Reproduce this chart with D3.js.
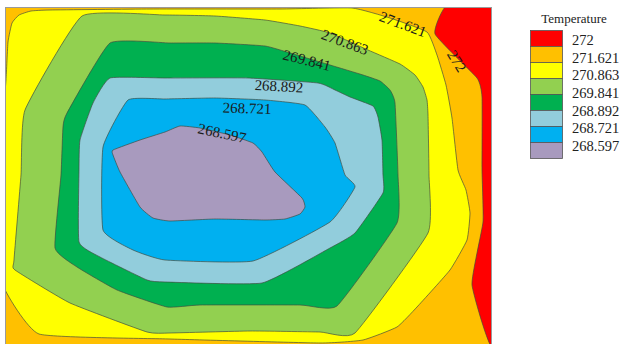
<!DOCTYPE html>
<html>
<head>
<meta charset="utf-8">
<script src="https://cdn.jsdelivr.net/npm/d3@7"></script>
<style>
  body { margin: 0; background: #fff; }
  svg { display: block; }
</style>
</head>
<body>
<script>
// contour levels (legend labels) and band colours, top to bottom
const levels = ['272', '271.621', '270.863', '269.841', '268.892', '268.721', '268.597'];
const bandColors = ['#ff0000', '#ffc000', '#ffff00', '#92d050', '#00b050', '#92cddc', '#00b0f0', '#a89abe'];

// closed contour rings in grid units (x 0..487, y 0..337, y downwards)
const ring272 = [[442,-2],[490,-3],[490,340],[467,278],[478,215],[477,163],[477,90],[472,71],[430,27]];
const ring271 = [[-3,125],[1,73],[3,35],[7,16],[14,8],[26,4],[45,3],[145,2],[275,2],[347,1],[385,11],[422,25],[432,48],
  [441,78],[447,111],[453,163],[461,183],[465,206],[462,233],[445,263],[412,300],[392,320],[358,333],[315,336],
  [165,332],[34,327],[-3,276],[-4,200]];
const ring270 = [[77,9],[160,8],[210,9],[260,13],[295,19],[325,26],[363,43],[395,57],[410,68],[418,80],[422,93],[423,108],
  [424,168],[423,226],[350,326],[315,325],[245,324],[165,326],[142,325],[65,296],[10,263],[9,253],[16,168],[20,103]];
const ring269 = [[105,36],[165,36],[210,36],[260,39],[285,46],[325,58],[358,68],[375,74],[385,83],[390,96],
  [393,168],[392,216],[332,299],[295,298],[195,298],[162,300],[112,283],[72,260],[50,241],[56,168],[58,120],[62,106]];
const ring268a = [[105,71],[160,71],[243,71],[313,76],[330,83],[345,90],[368,99],[373,110],[377,133],[378,168],
  [378,186],[350,226],[325,241],[257,276],[160,275],[142,273],[95,250],[74,235],[74,163],[75,133],[88,96]];
const ring268b = [[123,93],[160,92],[210,91],[260,93],[300,98],[320,120],[330,136],[340,168],[350,180],[325,215],
  [248,254],[160,253],[128,243],[98,223],[98,140]];
const ring268c = [[108,143],[135,133],[160,125],[175,119],[195,121],[225,128],[248,136],[257,145],[270,165],
  [297,191],[300,200],[295,207],[280,212],[260,213],[210,212],[165,214],[148,211],[135,200],[115,165],[108,148]];

const rings = [ring272, ring271, ring270, ring269, ring268a, ring268b, ring268c];
const ringColors = [bandColors[0], bandColors[2], bandColors[3], bandColors[4], bandColors[5], bandColors[6], bandColors[7]];

// inline contour labels: text, anchor (grid units), angle
const lineLabels = [
  { text: '271.621', x: 398, y: 17, a: 20 },
  { text: '272', x: 452, y: 54, a: 58 },
  { text: '270.863', x: 340, y: 35, a: 20 },
  { text: '269.841', x: 302, y: 53, a: 14 },
  { text: '268.892', x: 274, y: 79, a: 3 },
  { text: '268.721', x: 242, y: 101, a: 2 },
  { text: '268.597', x: 217, y: 126, a: 12 }
];

const w = 622, h = 344;
const plotLeft = 5, plotTop = 7, plotRight = 492, plotBottom = 344;

const x = d3.scaleLinear().domain([0, 487]).range([plotLeft, plotRight]);
const y = d3.scaleLinear().domain([0, 337]).range([plotTop, plotBottom]);

const svg = d3.select('body').append('svg').attr('width', w).attr('height', h);

svg.append('clipPath').attr('id', 'plot-clip')
  .append('rect')
  .attr('x', plotLeft).attr('y', plotTop)
  .attr('width', plotRight - plotLeft).attr('height', plotBottom - plotTop);

const plot = svg.append('g').attr('clip-path', 'url(#plot-clip)');

// lowest band (271.621 zone) fills the whole field
plot.append('rect')
  .attr('x', x(0)).attr('y', y(0))
  .attr('width', x(487) - x(0)).attr('height', y(337) - y(0))
  .attr('fill', bandColors[1]);

const ring = d3.line()
  .x(d => x(d[0]))
  .y(d => y(d[1]))
  .curve(d3.curveCardinalClosed.tension(0.6));

plot.selectAll('path.band')
  .data(rings)
  .join('path')
  .attr('class', 'band')
  .attr('d', ring)
  .attr('fill', (d, i) => ringColors[i])
  .attr('stroke', '#3f4a3f')
  .attr('stroke-opacity', 0.75)
  .attr('stroke-width', 0.9);

plot.selectAll('text.lbl')
  .data(lineLabels)
  .join('text')
  .attr('class', 'lbl')
  .attr('transform', d => `translate(${x(d.x)},${y(d.y)}) rotate(${d.a})`)
  .attr('text-anchor', 'middle')
  .attr('dy', '0.35em')
  .attr('font-family', '"Liberation Serif", "Times New Roman", serif')
  .attr('font-size', 15)
  .attr('fill', '#1a1a1a')
  .text(d => d.text);

// frame
svg.append('rect')
  .attr('x', plotLeft + 0.5).attr('y', plotTop + 0.5)
  .attr('width', plotRight - plotLeft - 1).attr('height', plotBottom - plotTop + 4)
  .attr('fill', 'none')
  .attr('stroke', '#9a9a9a')
  .attr('stroke-width', 1);

// legend
const legend = svg.append('g');
legend.append('text')
  .attr('x', 574).attr('y', 23)
  .attr('text-anchor', 'middle')
  .attr('font-family', '"Liberation Serif", "Times New Roman", serif')
  .attr('font-size', 13)
  .attr('fill', '#222')
  .text('Temperature');

const sw = d3.scaleBand().domain(d3.range(bandColors.length)).range([30, 158]);
legend.selectAll('rect')
  .data(bandColors)
  .join('rect')
  .attr('x', 530.5)
  .attr('y', (d, i) => sw(i) + 0.5)
  .attr('width', 32)
  .attr('height', sw.bandwidth())
  .attr('fill', d => d)
  .attr('stroke', '#555')
  .attr('stroke-width', 0.8);

const ly = d3.scalePoint().domain(levels).range([45, 151]);
legend.selectAll('text.lv')
  .data(levels)
  .join('text')
  .attr('class', 'lv')
  .attr('x', 572)
  .attr('y', d => ly(d))
  .attr('font-family', '"Liberation Serif", "Times New Roman", serif')
  .attr('font-size', 14.5)
  .attr('fill', '#222')
  .text(d => d);
</script>
</body>
</html>
